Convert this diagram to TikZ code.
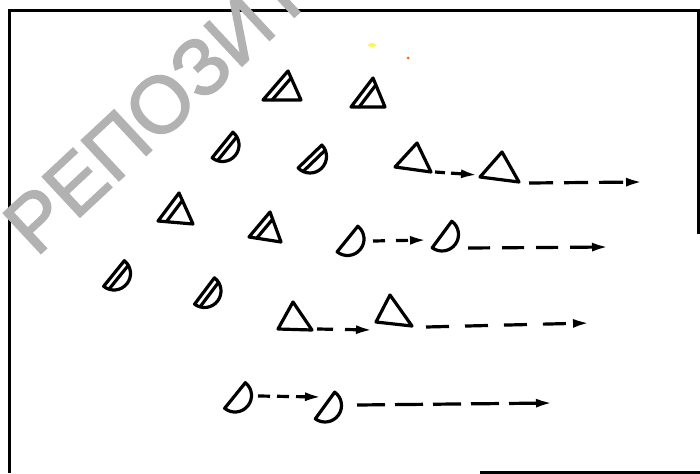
\documentclass[tikz,border=0pt]{standalone}
\usepackage{fontspec}
\newfontfamily\wmfont[FakeBold=2]{Liberation Sans}
\usetikzlibrary{arrows.meta,calc}
\newcommand\hattri[4]{%
  \draw[shp] (#2) coordinate (#1-l) -- (#3) coordinate (#1-a) -- (#4) coordinate (#1-r) -- cycle;
  \draw[shp] ($(#1-l)!0.24!(#1-r)$) -- ($(#1-a)!0.24!(#1-r)$);}
\newcommand\plaintri[4]{%
  \draw[shp] (#2) coordinate (#1-l) -- (#3) coordinate (#1-a) -- (#4) coordinate (#1-r) -- cycle;}
\begin{document}
\begin{tikzpicture}[x=1pt,y=-1pt,
  shp/.style={line width=3.2pt, line join=round, line cap=round},
  frame/.style={line width=3pt},
  arr/.style={line width=3.2pt, -{Latex[length=17pt,width=9pt]}},
  wm/.style={text=black!30, font=\wmfont\fontsize{80}{80}\selectfont, rotate=43, anchor=base west, inner sep=0pt},
  dsh/.pic={\draw[shp] (#1:16.5) coordinate (-q) arc[start angle=#1, end angle=#1+180, radius=16.5] coordinate (-p) -- cycle;},
  dhat/.pic={\draw[shp] (#1:16.5) arc[start angle=#1, end angle=#1+180, radius=16.5] -- cycle;
             \draw[shp] (#1+90:6) ++(#1:15) -- ++(#1+180:30);},
]
\useasboundingbox (0,0) rectangle (700,473);
\fill[white] (0,0) rectangle (700,473);
% frame
\draw[frame] (9,473) -- (9,11) -- (698,11) -- (698,234);
\draw[frame] (480,472) -- (700,472);
% specks
\fill[yellow!70] (372,45) ellipse (4 and 2);
\fill[orange!80!red] (408,58) circle (1.5);
% hatched triangles
\hattri{t1}{263,100}{288,71}{301,100}
\hattri{t2}{351,107}{373,78}{385,107}
\hattri{t3}{158,221}{179,193}{193,224}
\hattri{t4}{249,237}{270,212}{281,242}
% hatched half discs
\pic (d1) at (222.5,145) {dhat=-51};
\pic (d2) at (310,156.5) {dhat=-44};
\pic (d3) at (114,273.5) {dhat=-51};
\pic (d4) at (204.5,291) {dhat=-53};
% row 1
\plaintri{ta}{395,167}{417,143}{431,172}
\plaintri{tb}{480,177}{502,152}{519,182}
\coordinate (a1s) at (435,172); \coordinate (a1e) at (478,175);
\coordinate (a2s) at (529,183); \coordinate (a2e) at (643,182);
\draw[arr, dash pattern=on 10pt off 6pt] (a1s) -- (a1e);
\draw[arr, dash pattern=on 24pt off 11pt] (a2s) -- (a2e);
% row 2
\pic (da) at (347.5,239) {dsh=-51};
\pic (db) at (442,234.5) {dsh=-53.5};
\coordinate (a3s) at (373,241); \coordinate (a3e) at (427,240);
\coordinate (a4s) at (468,248); \coordinate (a4e) at (609,247);
\draw[arr, dash pattern=on 12pt off 11pt] (a3s) -- (a3e);
\draw[arr, dash pattern=on 22pt off 12pt] (a4s) -- (a4e);
% row 3
\plaintri{tc}{278,329}{293,302}{312,330}
\plaintri{td}{376,322}{390,295}{412,326}
\coordinate (a5s) at (317,329); \coordinate (a5e) at (373,330);
\coordinate (a6s) at (426,327); \coordinate (a6e) at (590,323);
\draw[arr, dash pattern=on 16pt off 12pt] (a5s) -- (a5e);
\draw[arr, dash pattern=on 23pt off 16pt] (a6s) -- (a6e);
% row 4
\pic (dc) at (235,395.5) {dsh=-51};
\pic (dd) at (325,405.5) {dsh=-54};
\coordinate (a7s) at (258,396); \coordinate (a7e) at (322,397);
\coordinate (a8s) at (357,405); \coordinate (a8e) at (553,403);
\draw[arr, dash pattern=on 12pt off 7pt] (a7s) -- (a7e);
\draw[arr, dash pattern=on 28pt off 10pt] (a8s) -- (a8e);
% watermark
\begin{scope}
\clip (0,0) rectangle (700,473);
\node[wm] (wmark) at (36,258) {РЕПОЗИТОРИЙ};
\end{scope}
\end{tikzpicture}
\end{document}
